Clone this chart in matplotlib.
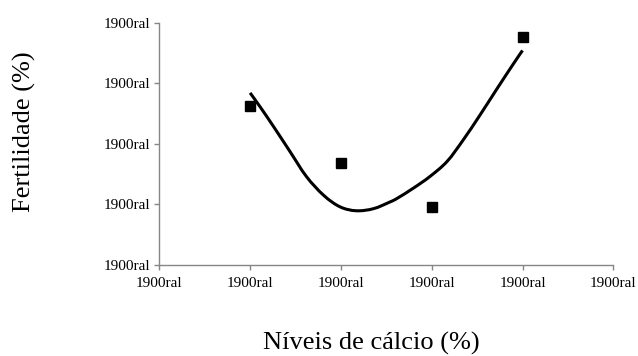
import numpy as np
import matplotlib
matplotlib.use("Agg")
import matplotlib.pyplot as plt
from matplotlib.path import Path
from matplotlib.patches import PathPatch

# measured points (calcium level vs fertility)
calcio = [1, 2, 3, 4]
fertilidade = [2.63, 1.675, 0.95, 3.77]

# trend curve, read along its length
curva_x = [1.0, 1.11, 1.26, 1.44, 1.62, 1.81, 1.99, 2.17, 2.36, 2.54,
           2.62, 2.80, 2.98, 3.17, 3.35, 3.53, 3.72, 3.90, 4.0]
curva_y = [2.84, 2.61, 2.28, 1.87, 1.46, 1.15, 0.96, 0.895, 0.93, 1.04,
           1.10, 1.27, 1.46, 1.71, 2.07, 2.47, 2.91, 3.32, 3.54]

xticks = [0, 1, 2, 3, 4, 5]
yticks = [0, 1, 2, 3, 4]
tick_label = "1900ral"


def smooth_path(xs, ys):
    # catmull-rom knots turned into cubic bezier segments
    pts = np.column_stack([xs, ys])
    verts = [pts[0]]
    codes = [Path.MOVETO]
    n = len(pts)
    for i in range(n - 1):
        p0 = pts[max(i - 1, 0)]
        p1 = pts[i]
        p2 = pts[i + 1]
        p3 = pts[min(i + 2, n - 1)]
        c1 = p1 + (p2 - p0) / 6.0
        c2 = p2 - (p3 - p1) / 6.0
        verts += [c1, c2, p2]
        codes += [Path.CURVE4] * 3
    return Path(verts, codes)


plt.rcParams['font.family'] = ['Liberation Serif', 'DejaVu Serif']

fig = plt.figure(figsize=(6.38, 3.56), dpi=100)
ax = fig.add_axes([0.2497, 0.2556, 0.7116, 0.681])

curve = PathPatch(smooth_path(curva_x, curva_y), facecolor="none",
                  edgecolor="black", lw=2.2, capstyle="butt", zorder=2)
ax.add_patch(curve)
ax.plot(calcio, fertilidade, linestyle="none", marker="s", ms=6.5,
        color="black", zorder=3)

ax.set_xlim(0, 5)
ax.set_ylim(0, 4)
ax.set_xticks(xticks)
ax.set_yticks(yticks)
ax.set_xticklabels([tick_label] * len(xticks))
ax.set_yticklabels([tick_label] * len(yticks))

grey = "#868686"
for side in ["top", "right"]:
    ax.spines[side].set_visible(False)
for side in ["left", "bottom"]:
    ax.spines[side].set_color(grey)
    ax.spines[side].set_linewidth(1.0)
ax.tick_params(axis="both", direction="out", length=3.6, width=1.0,
               color=grey, labelsize=11, labelcolor="black")
ax.tick_params(axis="x", pad=5)
ax.tick_params(axis="y", pad=3)

fig.text(0.582, 6 / 356, "Níveis de cálcio (%)", ha="center", va="baseline",
         fontsize=19)
fig.text(31 / 638, (356 - 212) / 356, "Fertilidade (%)", ha="left",
         va="baseline", rotation=90, rotation_mode="anchor", fontsize=19)

fig.savefig("out.png", dpi=100)
